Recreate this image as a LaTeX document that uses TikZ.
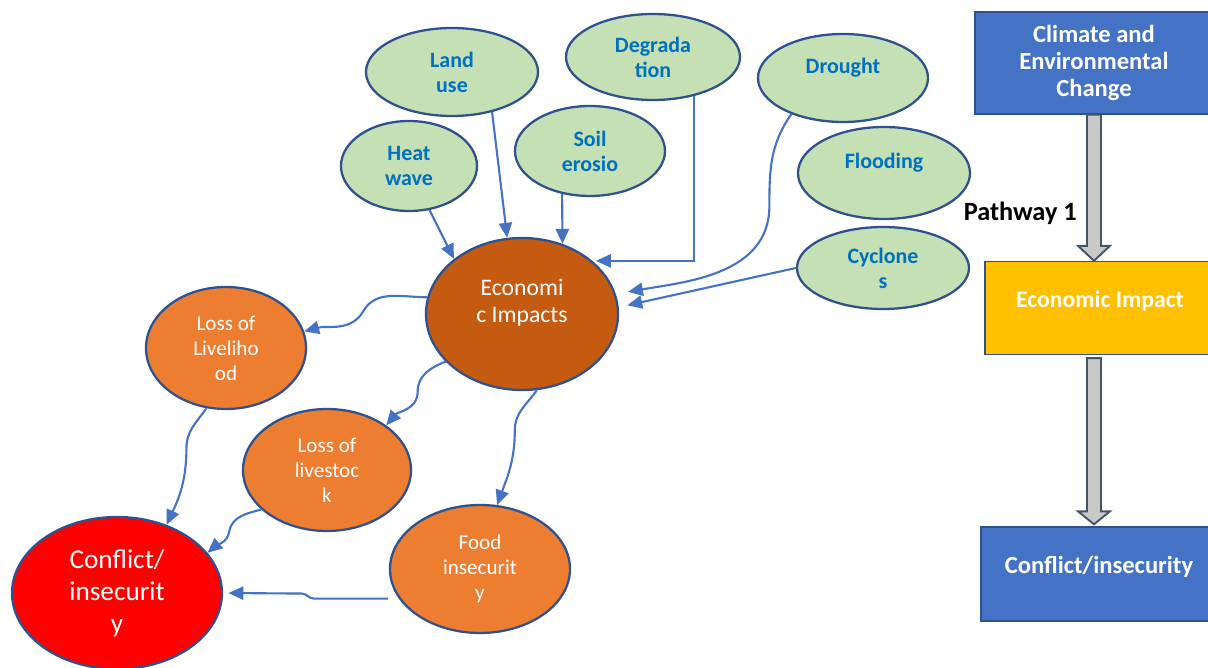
\documentclass[tikz,border=0pt]{standalone}
\usepackage{fontspec}
\setmainfont{Carlito}
\usetikzlibrary{shapes.geometric, arrows.meta, positioning, calc}

\definecolor{greenfill}{RGB}{197,224,180}
\definecolor{nodeline}{RGB}{47,82,143}
\definecolor{textblue}{RGB}{0,112,192}
\definecolor{rust}{RGB}{197,90,17}
\definecolor{orangefill}{RGB}{237,125,49}
\definecolor{boxblue}{RGB}{68,114,196}
\definecolor{gold}{RGB}{255,192,0}
\definecolor{arrowgrey}{RGB}{201,201,201}
\definecolor{arrowline}{RGB}{68,84,106}

\tikzset{
    wh/.style 2 args={minimum width=#1*0.02cm, minimum height=#2*0.02cm},
    driver/.style={ellipse, draw=nodeline, fill=greenfill, line width=1.3pt, inner sep=0pt, align=center, text=textblue, font=\fontsize{12.5}{14.2}\selectfont\bfseries},
    impact/.style={ellipse, draw=nodeline, fill=orangefill, line width=1.3pt, inner sep=0pt, align=center, text=white, font=\fontsize{12}{14.2}\selectfont},
    stage/.style={rectangle, draw=nodeline, line width=0.8pt, inner sep=0pt, align=center, text=white, font=\fontsize{14}{15.6}\selectfont\bfseries},
    link/.style={-{Triangle[length=8.5pt,width=7.5pt]}, draw=boxblue, line width=1.2pt},
    bigarrow/.style={draw=arrowline, fill=arrowgrey, line width=1.1pt}
}

\begin{document}
\begin{tikzpicture}[x=0.02cm, y=0.02cm]
    \useasboundingbox (0,0) rectangle (1208,-668);
    \clip (0,0) rectangle (1208,-668);

    % Fattori climatici e ambientali
    \node (landuse) [driver, wh={172}{88}] at (452,-72) {Land\\use};
    \node (degradation) [driver, wh={174}{86}] at (653,-57) {Degrada\\tion};
    \node (heatwave) [driver, wh={136}{90}] at (409,-166) {Heat\\wave};
    \node (soil) [driver, wh={150}{90}] at (590,-151) {Soil\\erosio};
    \node (drought) [driver, wh={170}{88}] at (843,-78) {Drought\\\mbox{}};
    \node (flooding) [driver, wh={172}{92}] at (884,-173) {Flooding\\\mbox{}};
    \node (cyclones) [driver, wh={172}{82}] at (883,-268) {Cyclone\\s};

    % Impatto economico e conseguenze
    \node (econ) [impact, wh={192}{152}, fill=rust, font=\fontsize{13.5}{15.3}\selectfont] at (522,-314) {Economi\\c Impacts\\\mbox{}};
    \node (livelihood) [impact, wh={160}{122}] at (226,-348) {Loss of\\Liveliho\\od};
    \node (livestock) [impact, wh={168}{122}] at (327,-470) {Loss of\\livestoc\\k};
    \node (food) [impact, wh={180}{128}] at (480,-569) {Food\\insecurit\\y};
    \node (conflict) [impact, wh={210}{152}, fill=red, font=\fontsize{15.5}{18.1}\selectfont] at (117,-593) {Conflict/\\insecurit\\y};

    % Colonna del percorso
    \node (climate) [stage, wh={238}{102}, fill=boxblue] at (1094,-63) {Climate and\\Environmental\\Change};
    \node (econbox) [stage, wh={230}{93}, fill=gold, font=\fontsize{13.5}{15.6}\selectfont\bfseries] at (1100,-308) {Economic Impact\\[-5pt]\mbox{}};
    \node (conflictbox) [stage, wh={236}{94}, fill=boxblue] at (1099,-574) {Conflict/insecurity\\[-5pt]\mbox{}};
    \node (pathway) [anchor=east, font=\fontsize{15}{18}\selectfont\bfseries] at (1083,-213) {Pathway 1};

    \draw [bigarrow] ($(climate.south)+(-7,0)$) -- ($(climate.south |- econbox.north)+(-7,15)$) -- ++(-9,0) -- (climate.south |- econbox.north) -- ++(16,15) -- ++(-9,0) -- ($(climate.south)+(7,0)$) -- cycle;
    \draw [bigarrow] ($(climate.south |- econbox.south)+(-7,-3)$) -- ($(climate.south |- conflictbox.north)+(-7,15)$) -- ++(-9,0) -- ($(climate.south |- conflictbox.north)+(0,2)$) -- ++(16,13) -- ++(-9,0) -- ($(climate.south |- econbox.south)+(7,-3)$) -- cycle;

    % Frecce verso l'impatto economico
    \draw [link] (heatwave.-65) -- (econ.141);
    \draw [link] (landuse.-45) -- (econ.101);
    \draw [link] (soil.-123) -- (econ.60);
    \draw [link, shorten >=2pt] (degradation.-44) |- (econ.37);
    \draw [link, shorten >=7pt] (drought.215) to[out=235, in=90] ++(-22,-92) to[out=-90, in=10] (econ.12);
    \draw [link, shorten >=5pt] (cyclones.west) -- (econ.4);

    % Conseguenze
    \draw [link] (econ.170) to[out=180, in=60] ++(-64,-14) to[out=240, in=15] (livelihood.12);
    \draw [link] (econ.212) to[out=200, in=90] ++(-28,-30) to[out=-90, in=50] (livestock.37);
    \draw [link] (econ.-79) to[out=235, in=90] ++(-22,-40) to[out=-90, in=70] (food.75);

    % Verso il conflitto
    \draw [link] (livelihood.252) to[out=235, in=90] ++(-20,-40) to[out=-90, in=65] (conflict.54);
    \draw [link] (livestock.211) to[out=195, in=80] ++(-32,-22) to[out=-100, in=40] (conflict.24);
    \draw [link, shorten <=6pt, shorten >=3pt] (food.200) -- ++(-85,0) to[out=180, in=0] ++(-12,5) -- (conflict.east);

\end{tikzpicture}
\end{document}
